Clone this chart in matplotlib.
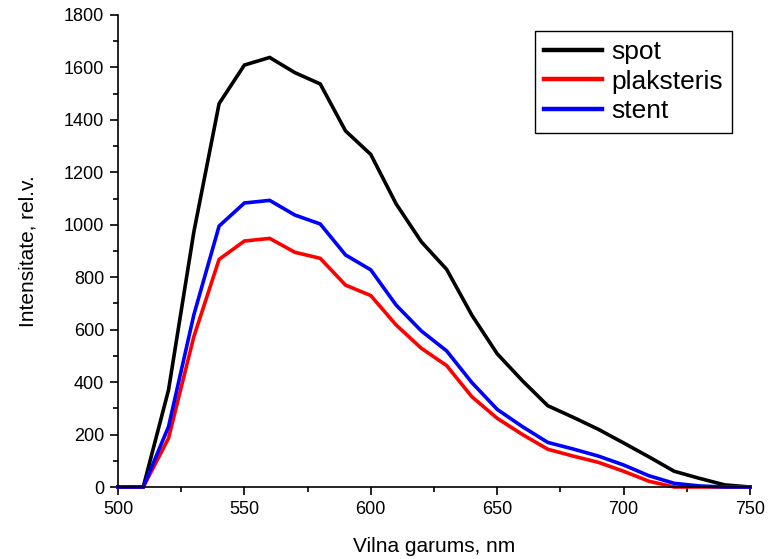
import numpy as np
from matplotlib import pyplot as plt
from matplotlib.ticker import MultipleLocator

plt.rcParams["font.family"] = ["Liberation Sans", "DejaVu Sans"]

wavelength = np.arange(500, 751, 10)

spot = [0, 0, 370, 972, 1462, 1609, 1638, 1580, 1537, 1358, 1268, 1080, 935,
        830, 655, 508, 405, 310, 266, 220, 168, 115, 60, 33, 8, 0]
plaksteris = [0, 0, 186, 573, 868, 938, 948, 895, 872, 770, 730, 618, 529,
              463, 344, 262, 200, 144, 118, 94, 60, 22, 0, 0, 0, 0]
stent = [0, 0, 230, 656, 995, 1083, 1093, 1037, 1003, 885, 828, 694, 595,
         519, 398, 296, 230, 170, 145, 118, 84, 43, 14, 4, 0, 0]

series = [("spot", spot, "black"),
          ("plaksteris", plaksteris, "#ff0000"),
          ("stent", stent, "#0000ff")]

fig = plt.figure(figsize=(7.68, 5.59), dpi=100)
ax = fig.add_axes([0.1536, 0.1288, 0.8230, 0.8444])

for name, vals, color in series:
    ax.plot(wavelength, vals, color=color, lw=2.6, label=name, clip_on=False,
            solid_joinstyle="miter")

ax.set_xlim(500, 750)
ax.set_ylim(0, 1800)
ax.xaxis.set_major_locator(MultipleLocator(50))
ax.xaxis.set_minor_locator(MultipleLocator(25))
ax.yaxis.set_major_locator(MultipleLocator(200))
ax.yaxis.set_minor_locator(MultipleLocator(100))

for side in ["top", "right"]:
    ax.spines[side].set_visible(False)
for side in ["left", "bottom"]:
    ax.spines[side].set_linewidth(1.2)

ax.tick_params(which="major", direction="out", length=6, width=1.2,
               labelsize=13, pad=4)
ax.tick_params(which="minor", direction="out", length=3.5, width=1.2)

ax.set_xlabel("Vilna garums, nm", fontsize=15, labelpad=14)
ax.set_ylabel("Intensitate, rel.v.", fontsize=15, labelpad=19)

leg = ax.legend(loc="upper right", bbox_to_anchor=(0.972, 0.967),
                fontsize=19, frameon=True, fancybox=False, framealpha=1,
                edgecolor="black", handlelength=2.2, handletextpad=0.35,
                labelspacing=0.22, borderpad=0.35, borderaxespad=0)
leg.get_frame().set_linewidth(1.0)
for line in leg.get_lines():
    line.set_linewidth(3.2)

fig.savefig("out.png", dpi=100)
